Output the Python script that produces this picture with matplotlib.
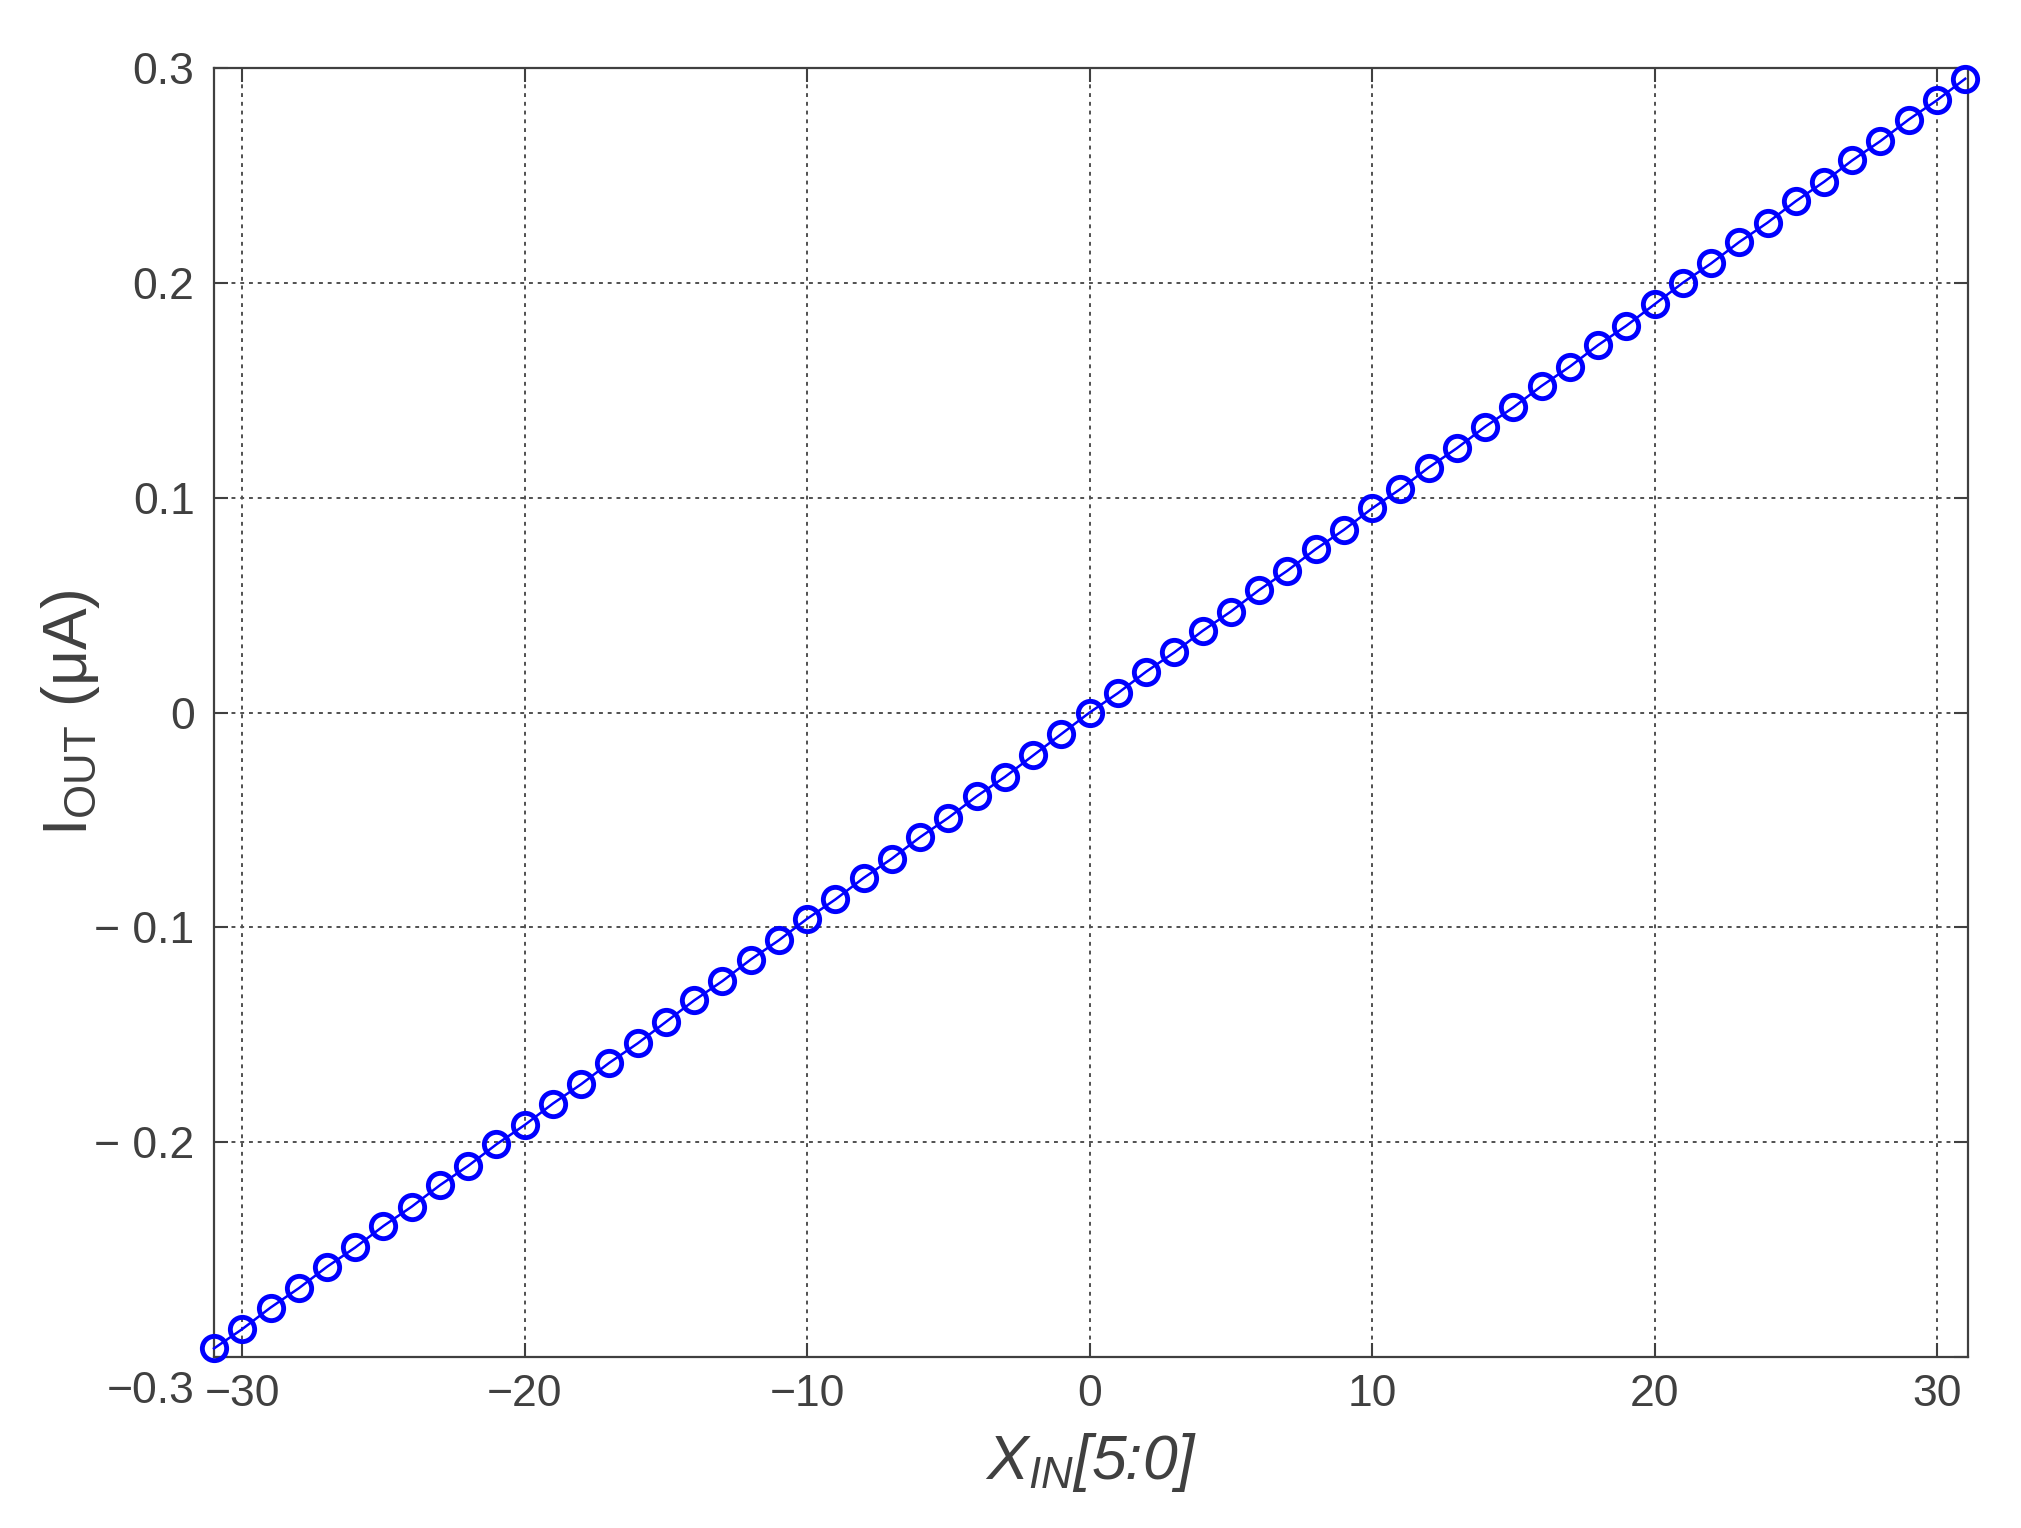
import matplotlib
matplotlib.use("Agg")
import matplotlib.pyplot as plt
from matplotlib import font_manager
import matplotlib.transforms as mtransforms

x_in = list(range(-31, 32))
i_out = [-0.296, -0.287, -0.277, -0.268, -0.258, -0.249, -0.239, -0.230,
         -0.220, -0.211, -0.201, -0.192, -0.182, -0.173, -0.163, -0.154,
         -0.144, -0.134, -0.125, -0.115, -0.106, -0.096, -0.087, -0.077,
         -0.068, -0.058, -0.049, -0.039, -0.030, -0.020, -0.010, 0.000,
         0.009, 0.019, 0.028, 0.038, 0.047, 0.057, 0.066, 0.076,
         0.085, 0.095, 0.104, 0.114, 0.123, 0.133, 0.142, 0.152,
         0.161, 0.171, 0.180, 0.190, 0.200, 0.209, 0.219, 0.228,
         0.238, 0.247, 0.257, 0.266, 0.276, 0.285, 0.295]
x_ticks = [-30, -20, -10, 0, 10, 20, 30]
y_ticks = [-0.3, -0.2, -0.1, 0, 0.1, 0.2, 0.3]
y_ticklabels = ["\u22120.3", "\u2212 0.2", "\u2212 0.1", "0", "0.1", "0.2", "0.3"]
x_ticklabels = ["\u221230", "\u221220", "\u221210", "0", "10", "20", "30"]

names = {f.name for f in font_manager.fontManager.ttflist}
tick_family = "Liberation Sans Narrow" if "Liberation Sans Narrow" in names else "Liberation Sans"

plt.rcParams['font.family'] = ['Liberation Sans', 'DejaVu Sans']
plt.rcParams['mathtext.fontset'] = 'custom'
plt.rcParams['mathtext.rm'] = 'Liberation Sans'
plt.rcParams['mathtext.it'] = 'Liberation Sans:italic'

TXT = '#404040'

fig = plt.figure(figsize=(20.21, 15.28), dpi=100)
ax = fig.add_axes([0.1059, 0.1119, 0.8679, 0.8436])

ax.plot(x_in, i_out, color='#0000FF', lw=1.8, marker='o', markersize=17.5,
        markerfacecolor='none', markeredgecolor='#0000FF', markeredgewidth=3.5,
        zorder=3, clip_on=False)

ax.set_xlim(-31, 31.1)
ax.set_ylim(-0.3, 0.3)
ax.set_xticks(x_ticks)
ax.set_yticks(y_ticks)
ax.set_xticklabels(x_ticklabels, family=tick_family, fontsize=32, color=TXT)
ax.set_yticklabels(y_ticklabels, family=tick_family, fontsize=32, color=TXT)

ax.tick_params(direction='in', length=10, width=1.5, color=TXT,
               top=True, right=True)
ax.tick_params(axis='y', pad=14)
ax.tick_params(axis='x', pad=12)

for s in ax.spines.values():
    s.set_color(TXT)
    s.set_linewidth(1.6)

ax.grid(True, color='#505050', lw=1.4, linestyle=(0, (2.0, 2.5)))
ax.set_axisbelow(True)

# MATLAB-like placement of the lowest y tick label
lbl = ax.get_yticklabels()[0]
lbl.set_transform(lbl.get_transform() + mtransforms.ScaledTranslation(0, -0.3, fig.dpi_scale_trans))

ax.set_xlabel(r'X$_{\mathit{IN}}$[5:0]', fontsize=45, style='italic', color=TXT, va='center')
ax.xaxis.set_label_coords(0.5, -0.082)
ax.set_ylabel(r'I$_{\mathrm{OUT}}$ (μA)', fontsize=45, color=TXT, va='center')
ax.yaxis.set_label_coords(-0.082, 0.5)

fig.savefig('out.png', dpi=100, facecolor='white')
